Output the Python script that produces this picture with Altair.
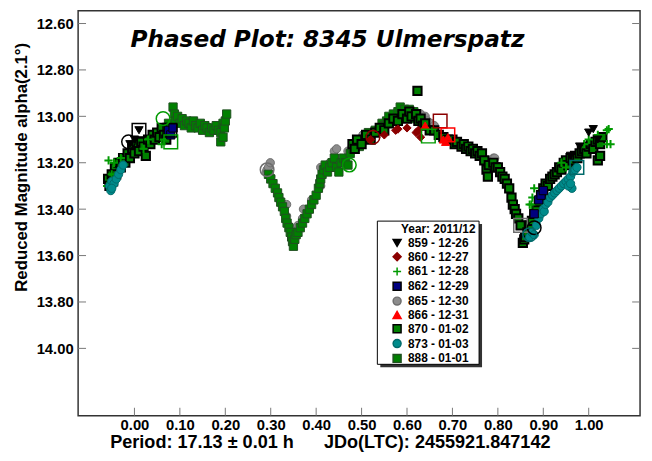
import altair as alt
import pandas as pd

# ---------------- data ----------------
SERIES = ["859 - 12-26", "860 - 12-27", "861 - 12-28", "862 - 12-29", "865 - 12-30",
          "866 - 12-31", "870 - 01-02", "873 - 01-03", "888 - 01-01"]

y_ticks = [12.6, 12.8, 13.0, 13.2, 13.4, 13.6, 13.8, 14.0]
x_ticks = [0.0, 0.1, 0.2, 0.3, 0.4, 0.5, 0.6, 0.7, 0.8, 0.9, 1.0]

TITLE = "Phased Plot: 8345 Ulmerspatz"
X_TITLE = "Period: 17.13 \u00b1 0.01 h\u00a0\u00a0\u00a0\u00a0\u00a0\u00a0JDo(LTC): 2455921.847142"
Y_TITLE = "Reduced Magnitude alpha(2.1\u00b0)"
LEGEND_TITLE = "Year: 2011/12"

# 888 - 01-01 (green squares)
s888_phase = [0.075, 0.085, 0.088, 0.09, 0.095, 0.10, 0.105, 0.11, 0.115, 0.12, 0.125, 0.13,
              0.135, 0.14, 0.145, 0.15, 0.155, 0.16, 0.165, 0.17, 0.175, 0.18, 0.185, 0.19,
              0.195, 0.198, 0.20, 0.203, 0.19, 0.195,
              0.295, 0.30, 0.305, 0.31, 0.315, 0.318, 0.322, 0.326, 0.33, 0.333, 0.336, 0.34,
              0.343, 0.346, 0.348, 0.35, 0.353, 0.356, 0.36, 0.365, 0.37, 0.375, 0.38, 0.385,
              0.39, 0.395, 0.40, 0.405, 0.408, 0.41, 0.413, 0.417, 0.42, 0.425, 0.43, 0.435,
              0.44, 0.445, 0.45, 0.455, 0.46, 0.465, 0.47, 0.475, 0.48, 0.485, 0.49, 0.495,
              0.50, 0.51, 0.515, 0.52, 0.53, 0.54, 0.545, 0.55, 0.555, 0.56, 0.57, 0.575,
              0.58, 0.585, 0.59, 0.595, 0.60, 0.605, 0.61, 0.615]
s888_mag = [13.03, 12.96, 12.99, 13.02, 13.00, 13.03, 13.01, 13.04, 13.02, 13.03, 13.05, 13.02,
            13.04, 13.05, 13.03, 13.06, 13.04, 13.05, 13.07, 13.05, 13.06, 13.04, 13.06, 13.07,
            13.03, 13.05, 13.02, 12.99, 13.11, 13.09,
            13.25, 13.27, 13.29, 13.31, 13.33, 13.35, 13.37, 13.39, 13.41, 13.44, 13.46, 13.48,
            13.50, 13.52, 13.54, 13.56, 13.53, 13.51, 13.50, 13.48, 13.46, 13.44, 13.42, 13.40,
            13.38, 13.36, 13.34, 13.31, 13.29, 13.27, 13.25, 13.23, 13.21, 13.24, 13.22, 13.20,
            13.18, 13.22, 13.24, 13.20, 13.18, 13.20, 13.21, 13.16, 13.14, 13.12, 13.11, 13.13,
            13.10, 13.09, 13.07, 13.08, 13.06, 13.05, 13.03, 13.04, 13.02, 13.00, 12.99, 13.01,
            12.98, 12.96, 12.99, 12.97, 13.00, 12.97, 13.01, 12.98]

# 870 - 01-02 (green squares, thick black edge)
s870_phase = [-0.058, -0.055, -0.05, -0.047, -0.043, -0.04, -0.035, -0.03, -0.025, -0.02,
              -0.015, -0.01, -0.005, 0.0, 0.005, 0.01, 0.015, 0.02, 0.025, 0.03, 0.035, 0.04,
              0.045, 0.05, 0.055, 0.06, 0.065, 0.07,
              0.48, 0.485, 0.49, 0.50, 0.51, 0.52, 0.53, 0.54, 0.55, 0.56, 0.57, 0.58, 0.59,
              0.60, 0.605, 0.61, 0.62, 0.623, 0.625, 0.63, 0.635, 0.64, 0.65,
              0.66, 0.67, 0.68, 0.69, 0.70, 0.705, 0.71, 0.72, 0.725, 0.73, 0.735, 0.74, 0.745,
              0.75, 0.755, 0.76, 0.765, 0.77, 0.775, 0.778, 0.78, 0.79, 0.795, 0.80, 0.805,
              0.81, 0.815, 0.82, 0.825, 0.83, 0.833, 0.837, 0.84, 0.845, 0.85, 0.855, 0.858,
              0.86, 0.865, 0.87, 0.875, 0.88, 0.885, 0.89, 0.895, 0.90, 0.905, 0.91, 0.915,
              0.92, 0.925, 0.93, 0.935, 0.94, 0.945, 0.95, 0.955, 0.96, 0.965, 0.97, 0.975,
              0.98, 0.985, 0.99, 0.995, 1.0, 1.005, 1.01, 1.015, 1.02, 1.025, 1.03, 1.02, 1.025]
s870_mag = [13.27, 13.30, 13.25, 13.28, 13.22, 13.25, 13.20, 13.22, 13.18, 13.20,
            13.16, 13.18, 13.14, 13.16, 13.12, 13.15, 13.11, 13.13, 13.17, 13.10, 13.12, 13.08,
            13.10, 13.07, 13.09, 13.05, 13.08, 13.10,
            13.12, 13.14, 13.10, 13.12, 13.08, 13.10, 13.07, 13.05, 13.06, 13.03, 13.01, 13.02,
            12.99, 13.01, 12.98, 13.00, 12.99, 12.89, 13.02, 13.01, 13.04, 13.03, 13.06,
            13.06, 13.08, 13.09, 13.10, 13.10, 13.12, 13.11, 13.13, 13.12, 13.14, 13.13, 13.15,
            13.14, 13.16, 13.15, 13.17, 13.16, 13.19, 13.23, 13.26, 13.21, 13.20, 13.22, 13.22,
            13.24, 13.26, 13.27, 13.29, 13.31, 13.35, 13.38, 13.40, 13.42, 13.44, 13.47, 13.545,
            13.53,
            13.52, 13.50, 13.47, 13.45, 13.42, 13.40, 13.37, 13.34, 13.31, 13.29, 13.30, 13.27,
            13.26, 13.25, 13.24, 13.22, 13.23, 13.20, 13.19, 13.21, 13.18, 13.19, 13.17, 13.18,
            13.16, 13.15, 13.14, 13.16, 13.13, 13.12, 13.14, 13.11, 13.10, 13.12, 13.09, 13.19,
            13.17]

# 865 - 12-30 (grey circles)
s865_phase = [0.29, 0.292, 0.295, 0.299, 0.30, 0.32, 0.335, 0.335, 0.34, 0.345, 0.352, 0.357,
              0.36, 0.37, 0.372, 0.39, 0.41, 0.41, 0.415, 0.43, 0.44, 0.445, 0.47, 0.50, 0.503,
              0.60, 0.63, 0.64, 0.645, 0.65, 0.652, 0.655, 0.66, 0.79, 0.793, 0.85]
s865_mag = [13.24, 13.23, 13.22, 13.20, 13.26, 13.36, 13.38, 13.43, 13.47, 13.49, 13.50, 13.48,
            13.47, 13.44, 13.40, 13.36, 13.30, 13.22, 13.22, 13.20, 13.15, 13.14, 13.15, 13.10,
            13.08, 12.97, 12.99, 13.00, 13.02, 13.03, 13.03, 13.05, 13.04, 13.18, 13.18, 13.47]

# 873 - 01-03 (teal circles)
s873_phase = [-0.055, -0.052, -0.05, -0.045, -0.04, -0.035, -0.03, -0.025, -0.05,
              0.87, 0.875, 0.88, 0.885, 0.89, 0.895, 0.90, 0.902, 0.905, 0.91, 0.915, 0.92,
              0.925, 0.93, 0.935, 0.94, 0.945, 0.95, 0.955, 0.96, 0.963, 0.965, 0.97, 0.974,
              0.955, 0.96]
s873_mag = [13.30, 13.32, 13.28, 13.29, 13.27, 13.25, 13.23, 13.21, 13.31,
            13.52, 13.50, 13.51, 13.47, 13.44, 13.42, 13.40, 13.41, 13.38, 13.37, 13.35, 13.34,
            13.33, 13.32, 13.31, 13.30, 13.29, 13.28, 13.27, 13.26, 13.31, 13.24, 13.23, 13.22,
            13.30, 13.29]

# 861 - 12-28 (green crosses)
s861_phase = [-0.06, -0.057, -0.05, -0.045, -0.03, 0.02, 0.03, 0.06, 0.065,
              0.87, 0.874, 0.876, 0.88, 0.94, 0.95, 0.99, 1.0, 1.02, 1.04, 1.044, 1.04, 1.048]
s861_mag = [13.30, 13.19, 13.25, 13.20, 13.18, 13.14, 13.10, 13.12, 13.10,
            13.38, 13.38, 13.35, 13.31, 13.20, 13.22, 13.12, 13.10, 13.08, 13.06, 13.055, 13.12,
            13.12]

# 862 - 12-29 (navy squares)
s862_phase = [0.075, 0.08, 0.085, 0.88, 0.89, 0.895, 0.90]
s862_mag = [13.06, 13.08, 13.05, 13.42, 13.36, 13.34, 13.32]

# 860 - 12-27 (dark red diamonds)
s860_phase = [0.52, 0.55, 0.575, 0.58, 0.60, 0.62, 0.625, 0.63]
s860_mag = [13.10, 13.08, 13.06, 13.055, 13.05, 13.07, 13.06, 13.09]

# 866 - 12-31 (red triangles)
s866_phase = [0.64, 0.68, 0.685, 0.69]
s866_mag = [13.04, 13.10, 13.11, 13.09]

# 859 - 12-26 (black down triangles)
s859_phase = [-0.01, 0.0, 0.01, 0.96, 0.98, 1.0, 1.01, 1.02]
s859_mag = [13.12, 13.10, 13.06, 13.17, 13.13, 13.07, 13.055, 13.10]

# first observation of each session (larger open symbols)
open_sq_phase = [0.01, 0.078, 0.08, 0.647, 0.673, 0.69, 0.85, 0.974]
open_sq_mag = [13.06, 13.06, 13.11, 13.085, 13.02, 13.08, 13.47, 13.22]
open_sq_series = ["859 - 12-26", "862 - 12-29", "861 - 12-28", "861 - 12-28",
                  "860 - 12-27", "866 - 12-31", "865 - 12-30", "873 - 01-03"]
open_ci_phase = [-0.013, 0.063, 0.292, 0.473, 0.525, 0.88, 0.87]
open_ci_mag = [13.11, 13.01, 13.23, 13.21, 13.09, 13.48, 13.51]
open_ci_series = ["859 - 12-26", "861 - 12-28", "865 - 12-30", "861 - 12-28",
                  "860 - 12-27", "862 - 12-29", "873 - 01-03"]

# ---------------- build table ----------------
draw_order = [
    ("865 - 12-30", s865_phase, s865_mag),
    ("888 - 01-01", s888_phase, s888_mag),
    ("870 - 01-02", s870_phase, s870_mag),
    ("861 - 12-28", s861_phase, s861_mag),
    ("873 - 01-03", s873_phase, s873_mag),
    ("862 - 12-29", s862_phase, s862_mag),
    ("860 - 12-27", s860_phase, s860_mag),
    ("866 - 12-31", s866_phase, s866_mag),
    ("859 - 12-26", s859_phase, s859_mag),
]
rows = []
for name, ph, mg in draw_order:
    for p, m in zip(ph, mg):
        rows.append({"series": name, "phase": p, "mag": m})
df = pd.DataFrame(rows)

open_sq = pd.DataFrame({"series": open_sq_series, "phase": open_sq_phase, "mag": open_sq_mag})
open_ci = pd.DataFrame({"series": open_ci_series, "phase": open_ci_phase, "mag": open_ci_mag})

# ---------------- styles ----------------
CROSS = "M-1,0L1,0M0,-1L0,1"
fill_range = ["#000000", "#8B0000", "#009A00", "#000080", "#8C8C8C", "#FF0000",
              "#008000", "#008B8B", "#008000"]
stroke_range = ["#000000", "#8B0000", "#009A00", "#000000", "#6E6E6E", "#FF0000",
                "#000000", "#006A6A", "#1F4F1F"]
shape_range = ["triangle-down", "diamond", CROSS, "square", "circle", "triangle-up",
               "square", "circle", "square"]

FONT = "Liberation Sans"
W, H = 569, 410
xscale = alt.Scale(domain=[-0.124, 1.113], nice=False, zero=False)
yscale = alt.Scale(domain=[12.545, 14.29], reverse=True, nice=False, zero=False)

legend = alt.Legend(
    orient="none", legendX=312, legendY=226, title=None,
    labelFont=FONT, labelFontSize=12, labelFontWeight="bold", labelColor="black",
    labelOffset=5, padding=3, rowPadding=-1,
    symbolSize=65, symbolStrokeWidth=1.5, symbolOffset=2,
)

sw = (alt.when(alt.datum.series == "870 - 01-02").then(alt.value(2))
      .when(alt.datum.series == "861 - 12-28").then(alt.value(2))
      .otherwise(alt.value(1)))

X_AXIS = alt.Axis(
    values=x_ticks, format=".2f", title=X_TITLE, ticks=False, tickSize=0,
    domain=False, grid=False, labelFont=FONT, labelFontSize=15,
    labelFontWeight="bold", labelColor="black", labelPadding=2,
    titleFont=FONT, titleFontSize=18.3, titleFontWeight="bold", titleColor="black",
    titleX=32, titleY=32, titleAlign="left", titleAnchor="start",
    titleBaseline="alphabetic")
Y_AXIS = alt.Axis(
    values=y_ticks, format=".2f", title=Y_TITLE, ticks=False, tickSize=0,
    domain=False, grid=False, labelFont=FONT, labelFontSize=15,
    labelFontWeight="bold", labelColor="black", labelPadding=5,
    titleFont=FONT, titleFontSize=17, titleFontWeight="bold", titleColor="black",
    titleAngle=270, titleX=-52, titleY=158, titleAlign="center",
    titleBaseline="alphabetic")

points = alt.Chart(df).mark_point(filled=True, size=70, opacity=1).encode(
    x=alt.X("phase:Q", scale=xscale, axis=X_AXIS),
    y=alt.Y("mag:Q", scale=yscale, axis=Y_AXIS),
    fill=alt.Fill("series:N", scale=alt.Scale(domain=SERIES, range=fill_range), legend=legend),
    stroke=alt.Stroke("series:N", scale=alt.Scale(domain=SERIES, range=stroke_range), legend=legend),
    shape=alt.Shape("series:N", scale=alt.Scale(domain=SERIES, range=shape_range), legend=legend),
    strokeWidth=sw,
)

open_squares = alt.Chart(open_sq).mark_point(filled=False, size=190, strokeWidth=1.5,
                                             shape="square", opacity=1).encode(
    x=alt.X("phase:Q", scale=xscale, axis=X_AXIS),
    y=alt.Y("mag:Q", scale=yscale, axis=Y_AXIS),
    stroke=alt.Stroke("series:N", legend=None),
)
open_circles = alt.Chart(open_ci).mark_point(filled=False, size=190, strokeWidth=1.5,
                                             shape="circle", opacity=1).encode(
    x=alt.X("phase:Q", scale=xscale, axis=X_AXIS),
    y=alt.Y("mag:Q", scale=yscale, axis=Y_AXIS),
    stroke=alt.Stroke("series:N", legend=None),
)

ydf = pd.DataFrame({"mag": y_ticks})
xdf = pd.DataFrame({"phase": x_ticks})
tick_style = dict(color="#777777", strokeWidth=1)
ticks_left = alt.Chart(ydf).mark_rule(**tick_style).encode(
    y=alt.Y("mag:Q", scale=yscale, axis=Y_AXIS), x=alt.value(0), x2=alt.value(8))
ticks_right = alt.Chart(ydf).mark_rule(**tick_style).encode(
    y=alt.Y("mag:Q", scale=yscale, axis=Y_AXIS), x=alt.value(W - 8), x2=alt.value(W))
ticks_bottom = alt.Chart(xdf).mark_rule(**tick_style).encode(
    x=alt.X("phase:Q", scale=xscale, axis=X_AXIS), y=alt.value(H - 8), y2=alt.value(H))

# legend frame: drop shadow, white box, title (legend entries are drawn by Vega on top)
one = pd.DataFrame({"k": [0]})
legend_shadow = alt.Chart(one).mark_rect(color="#333333").encode(
    x=alt.value(306), x2=alt.value(409), y=alt.value(216), y2=alt.value(361))
legend_box = alt.Chart(one).mark_rect(fill="white", stroke="black", strokeWidth=1).encode(
    x=alt.value(303), x2=alt.value(406), y=alt.value(213), y2=alt.value(358))
legend_title = alt.Chart(pd.DataFrame({"t": [LEGEND_TITLE]})).mark_text(
    align="left", baseline="alphabetic", font=FONT, fontSize=12, fontWeight="bold",
    color="black").encode(x=alt.value(327), y=alt.value(225), text="t:N")

title_text = alt.Chart(pd.DataFrame({"t": [TITLE]})).mark_text(
    align="left", baseline="alphabetic", font="DejaVu Sans", fontSize=23.5,
    fontWeight="bold", fontStyle="italic", color="black"
).encode(x=alt.value(53), y=alt.value(37), text="t:N")

chart = alt.layer(
    points, open_squares, open_circles, ticks_left, ticks_right, ticks_bottom,
    legend_shadow, legend_box, legend_title, title_text
).properties(
    width=W, height=H,
    autosize=alt.AutoSizeParams(type="none"),
    padding={"left": 71, "top": 0, "right": 4, "bottom": 35},
    background="white",
).configure_view(
    stroke="#333333", strokeWidth=1.5
)

chart.save("out.html", embed_options={"renderer": "svg", "actions": False})
